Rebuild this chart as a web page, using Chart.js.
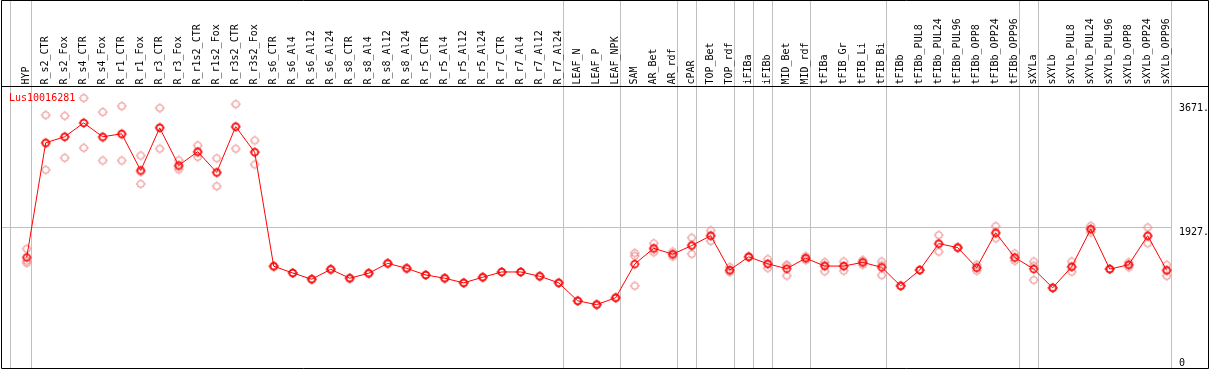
<!DOCTYPE html>
<html>
<head>
<meta charset="utf-8">
<script src="https://cdn.jsdelivr.net/npm/chart.js@4/dist/chart.umd.min.js"></script>
<style>
  html, body { margin: 0; padding: 0; background: #fff; }
  #wrap { width: 1209px; height: 370px; }
</style>
</head>
<body>
<div id="wrap"><canvas id="cnv" width="1209" height="370"></canvas></div>
<script>
"use strict";

const geneId = "Lus10016281";

const categories = [
  "HYP", "R_s2_CTR", "R_s2_Fox", "R_s4_CTR", "R_s4_Fox", "R_r1_CTR", "R_r1_Fox", "R_r3_CTR", "R_r3_Fox",
  "R_r1s2_CTR", "R_r1s2_Fox", "R_r3s2_CTR", "R_r3s2_Fox",
  "R_s6_CTR", "R_s6_Al4", "R_s6_Al12", "R_s6_Al24", "R_s8_CTR", "R_s8_Al4", "R_s8_Al12", "R_s8_Al24",
  "R_r5_CTR", "R_r5_Al4", "R_r5_Al12", "R_r5_Al24", "R_r7_CTR", "R_r7_Al4", "R_r7_Al12", "R_r7_Al24",
  "LEAF_N", "LEAF_P", "LEAF_NPK", "SAM", "AR_Bet", "AR_rdf", "cPAR", "TOP_Bet", "TOP_rdf",
  "iFIBa", "iFIBb", "MID_Bet", "MID_rdf", "tFIBa", "tFIB_Gr", "tFIB_Li", "tFIB_Bi", "tFIBb",
  "tFIBb_PUL8", "tFIBb_PUL24", "tFIBb_PUL96", "tFIBb_OPP8", "tFIBb_OPP24", "tFIBb_OPP96",
  "sXYLa", "sXYLb", "sXYLb_PUL8", "sXYLb_PUL24", "sXYLb_PUL96", "sXYLb_OPP8", "sXYLb_OPP24", "sXYLb_OPP96"
];

// mean expression per sample
const meanValues = [
  1498, 3111, 3195, 3390, 3195, 3237, 2722, 3320, 2792,
  2986, 2694, 3338, 2977,
  1375, 1280, 1192, 1331, 1206, 1276, 1415, 1345,
  1252, 1206, 1141, 1220, 1294, 1294, 1234, 1141,
  888, 835, 932, 1405, 1627, 1544, 1665, 1804, 1321,
  1507, 1409, 1340, 1488, 1377, 1377, 1429, 1359, 1099,
  1321, 1693, 1637, 1354, 1846, 1498,
  1335, 1071, 1368, 1896, 1335, 1395, 1804, 1317
];

// replicates
const rep1 = [
  1620, 3500, 3490, 3740, 3543, 3626, 2931, 3599, 2865,
  3074, 2893, 3654, 3144,
  1375, 1280, 1192, 1331, 1206, 1276, 1415, 1345,
  1252, 1206, 1141, 1220, 1294, 1294, 1234, 1141,
  888, 835, 932, 1560, 1697, 1581, 1776, 1878, 1363,
  1515, 1474, 1395, 1516, 1433, 1442, 1461, 1442, 1099,
  1321, 1813, 1637, 1395, 1938, 1554,
  1442, 1071, 1442, 1943, 1335, 1430, 1920, 1395
];
const rep2 = [
  1450, 3100, 3195, 3390, 3181, 3224, 2703, 3333, 2775,
  2972, 2689, 3332, 2981,
  1375, 1280, 1192, 1331, 1206, 1276, 1415, 1345,
  1252, 1206, 1141, 1220, 1294, 1294, 1234, 1141,
  888, 835, 932, 1520, 1612, 1539, 1671, 1805, 1306,
  1507, 1404, 1383, 1488, 1395, 1377, 1429, 1387, 1099,
  1321, 1685, 1637, 1354, 1833, 1490,
  1382, 1071, 1364, 1896, 1335, 1395, 1795, 1317
];
const rep3 = [
  1420, 2730, 2900, 3040, 2861, 2861, 2532, 3028, 2736,
  2912, 2500, 3028, 2806,
  1375, 1280, 1192, 1331, 1206, 1276, 1415, 1345,
  1252, 1206, 1141, 1220, 1294, 1294, 1234, 1141,
  888, 835, 932, 1100, 1572, 1512, 1548, 1729, 1294,
  1500, 1349, 1242, 1461, 1303, 1312, 1396, 1248, 1099,
  1321, 1581, 1637, 1312, 1767, 1451,
  1182, 1071, 1298, 1850, 1335, 1360, 1697, 1238
];

// index of the last sample of each group (a separator is drawn after it)
const groupEnds = [0, 28, 31, 34, 35, 37, 38, 39, 41, 45, 52, 53, 60];

const yTicks = [0, 1927, 3671];
const yTickLabels = ["0", "1927.", "3671."];

const FONT = "'DejaVu Sans Mono', 'Liberation Mono', monospace";
const RED = "#ff0000";
const PINK = "#ec8f8f";
const GRAY = "#c0c0c0";

// small circle with four short tick marks, used as point style
function makeMarker(color, lineWidth)
 {
   const c = document.createElement("canvas");
   c.width = 12; c.height = 12;
   const g = c.getContext("2d");
   g.strokeStyle = color;
   g.fillStyle = color;
   g.lineWidth = lineWidth;
   g.beginPath();
   g.arc(6, 6, 3.3, 0, Math.PI * 2);
   g.stroke();
   g.fillRect(5.5, 1, 1, 1);
   g.fillRect(5.5, 10, 1, 1);
   g.fillRect(1, 5.5, 1, 1);
   g.fillRect(10, 5.5, 1, 1);
   return c;
 }

const meanMarker = makeMarker(RED, 1.4);
const repMarker = makeMarker(PINK, 1.1);

const framePlugin = {
  id: "frame",
  beforeDraw(chart) {
    const ctx = chart.ctx;
    const xs = chart.scales.x, ys = chart.scales.y;
    ctx.save();
    ctx.lineWidth = 1;

    // group separators
    const seps = [10.5].concat(groupEnds.map(i => Math.round(xs.getPixelForValue(i) + 4) + 0.5));
    ctx.strokeStyle = GRAY;
    ctx.beginPath();
    seps.forEach(px => { ctx.moveTo(px, 0); ctx.lineTo(px, 369); });
    const gy = Math.round(ys.getPixelForValue(yTicks[1])) + 0.5;
    ctx.moveTo(1, gy);
    ctx.lineTo(seps[seps.length - 1], gy);
    ctx.stroke();

    // black frame and header line
    ctx.strokeStyle = "#000";
    ctx.beginPath();
    ctx.rect(1.5, 0.5, 1207, 368);
    ctx.moveTo(1, Math.round(chart.chartArea.top) + 0.5);
    ctx.lineTo(1209, Math.round(chart.chartArea.top) + 0.5);
    ctx.stroke();
    ctx.restore();
  },
  afterDraw(chart) {
    const ctx = chart.ctx;
    const ys = chart.scales.y;
    ctx.save();
    ctx.font = "10px " + FONT;
    ctx.textBaseline = "alphabetic";
    ctx.textAlign = "left";

    ctx.fillStyle = RED;
    ctx.fillText(geneId, 9, 101);

    ctx.fillStyle = "#000";
    yTicks.forEach((v, i) => {
      const py = ys.getPixelForValue(v);
      ctx.fillText(yTickLabels[i], 1179, Math.min(py + 8, 366));
    });
    ctx.restore();
  }
};

Chart.defaults.font.family = FONT;
Chart.defaults.font.size = 10;

function repDataset(values)
 {
   return {
      data: values
     ,showLine: false
     ,pointStyle: repMarker
     ,pointRadius: 4
     ,borderColor: PINK
     ,backgroundColor: PINK
   };
 }

new Chart(document.getElementById("cnv"), {
   type: "line"
  ,data: {
      labels: categories
     ,datasets: [
        {
          data: meanValues
         ,borderColor: RED
         ,backgroundColor: RED
         ,borderWidth: 1
         ,tension: 0
         ,pointStyle: meanMarker
         ,pointRadius: 4
        }
       ,repDataset(rep1)
       ,repDataset(rep2)
       ,repDataset(rep3)
      ]
    }
  ,options: {
      responsive: false
     ,animation: false
     ,events: []
     ,layout: { padding: { top: 17.5, bottom: 2, left: 17.2, right: 32.8 } }
     ,plugins: { legend: { display: false }, tooltip: { enabled: false } }
     ,scales: {
        x: {
          type: "category"
         ,position: "top"
         ,offset: true
         ,grid: { display: false, drawTicks: false }
         ,border: { display: false }
         ,ticks: { autoSkip: false, maxRotation: 90, minRotation: 90, padding: 1, labelOffset: 12, color: "#000", font: { size: 10 } }
         ,afterFit: (scale) => { scale.height = 68; }
        }
       ,y: {
          display: false
         ,min: -14
         ,max: 3916
        }
      }
    }
  ,plugins: [framePlugin]
});
</script>
</body>
</html>
